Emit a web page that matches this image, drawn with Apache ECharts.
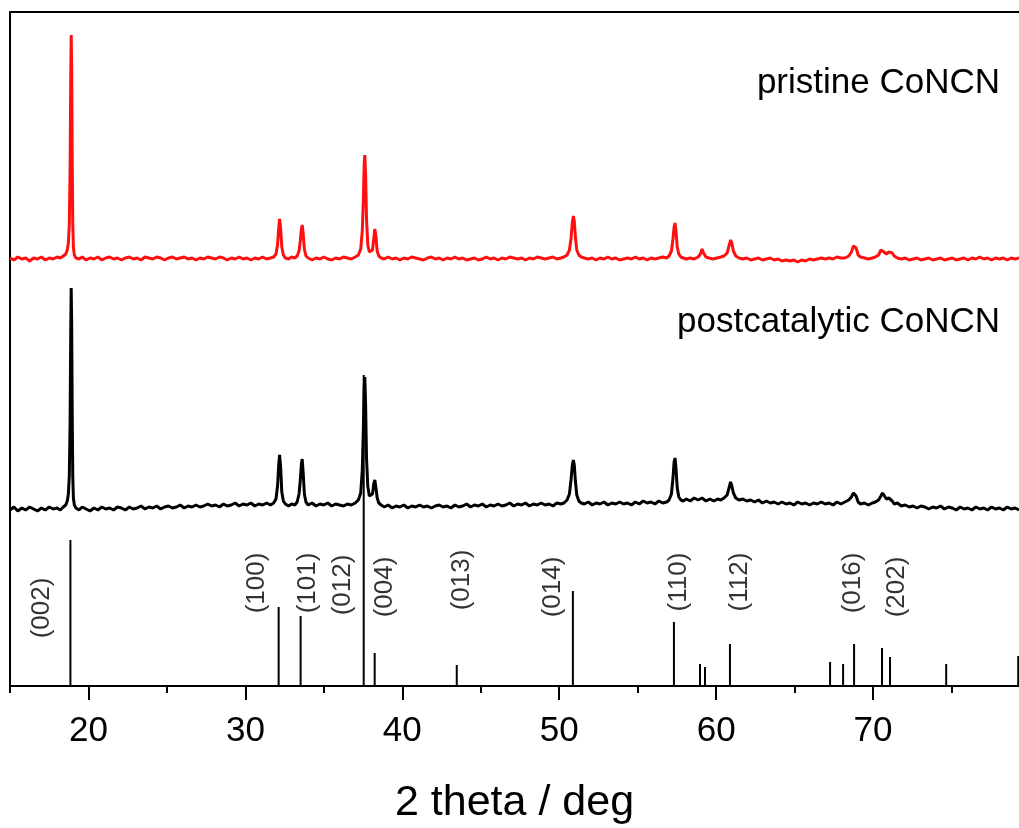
<!DOCTYPE html>
<html>
<head>
<meta charset="utf-8">
<script src="https://cdn.jsdelivr.net/npm/echarts@6/dist/echarts.min.js"></script>
<style>
html,body{margin:0;padding:0;background:#fff;}
#chart{width:1019px;height:828px;}
</style>
</head>
<body>
<div id="chart"></div>
<script>
// ---------- DATA ----------
// x axis (2 theta, deg); the original frame is cropped at the right edge
const xMin = 15, xMax = 79.3;
const majorTicks = [20, 30, 40, 50, 60, 70];
const minorTicks = [15, 25, 35, 45, 55, 65, 75];
const yMax = 674; // arbitrary intensity units

// pristine CoNCN pattern: [2theta, intensity above its own baseline]
const pristine = [
[15.0,1],[15.25,-1],[15.5,2],[15.75,0],[16.0,1],[16.25,-2],[16.5,1],[16.75,0],[17.0,2],[17.25,-1],[17.5,1],[17.75,0],[18.0,2],[18.2,1],[18.4,3],[18.55,5],[18.65,9],[18.72,16],[18.78,35],[18.83,90],[18.87,180],[18.9,224],[18.93,190],[18.97,90],[19.0,35],[19.04,12],[19.1,4],[19.2,1],[19.4,0],[19.6,2],[19.85,-1],
[20.1,1],[20.35,0],[20.6,2],[20.85,-1],[21.1,1],[21.35,2],[21.6,0],[21.85,1],[22.1,-1],[22.35,1],[22.6,2],[22.85,0],[23.1,1],[23.35,-1],[23.6,2],[23.85,1],[24.1,0],[24.35,2],[24.6,1],[24.85,-1],[25.1,1],[25.35,2],[25.6,0],[25.85,1],[26.1,2],[26.35,0],[26.6,1],[26.85,-1],[27.1,1],[27.35,0],[27.6,2],[27.85,1],[28.1,0],[28.35,2],[28.6,1],[28.85,-1],[29.1,1],[29.35,0],[29.6,2],[29.85,0],
[30.1,1],[30.35,-1],[30.6,1],[30.85,0],[31.1,2],[31.35,0],[31.6,1],[31.8,2],[31.95,5],[32.05,14],[32.12,30],[32.18,40],[32.25,30],[32.32,12],[32.42,4],[32.55,1],[32.75,0],[32.95,2],[33.15,1],[33.3,3],[33.42,8],[33.5,18],[33.57,30],[33.62,34],[33.68,26],[33.76,10],[33.86,3],[34.0,1],[34.25,-1],[34.5,1],[34.75,0],[35.0,2],[35.25,0],[35.5,-1],[35.75,1],[36.0,0],[36.25,2],[36.5,1],[36.75,0],[37.0,2],[37.2,4],[37.35,10],[37.45,28],[37.52,60],[37.57,95],[37.61,104],[37.66,85],[37.72,40],[37.8,14],[37.9,7],[38.0,6],[38.1,9],[38.18,20],[38.25,30],[38.32,22],[38.4,8],[38.5,3],[38.65,1],[38.85,0],[39.1,2],[39.35,0],[39.6,1],[39.85,-1],
[40.1,1],[40.35,0],[40.6,2],[40.85,1],[41.1,0],[41.35,-1],[41.6,1],[41.85,2],[42.1,0],[42.35,1],[42.6,-1],[42.85,1],[43.1,0],[43.35,2],[43.6,0],[43.85,1],[44.1,-1],[44.35,0],[44.6,1],[44.85,-1],[45.1,0],[45.35,2],[45.6,0],[45.85,1],[46.1,-1],[46.35,1],[46.6,0],[46.85,2],[47.1,1],[47.35,0],[47.6,1],[47.85,-1],[48.1,1],[48.35,0],[48.6,2],[48.85,1],[49.1,0],[49.35,1],[49.6,2],[49.85,0],
[50.1,1],[50.3,2],[50.5,4],[50.65,9],[50.75,20],[50.83,36],[50.9,43],[50.96,38],[51.03,22],[51.12,9],[51.25,4],[51.4,2],[51.6,1],[51.85,0],[52.1,1],[52.35,-1],[52.6,1],[52.85,0],[53.1,2],[53.35,0],[53.6,1],[53.85,-1],[54.1,0],[54.35,1],[54.6,0],[54.85,2],[55.1,0],[55.35,1],[55.6,-1],[55.85,1],[56.1,0],[56.35,1],[56.6,2],[56.85,1],[57.0,3],[57.15,8],[57.25,20],[57.32,32],[57.38,36],[57.44,28],[57.52,12],[57.62,5],[57.75,2],[57.9,1],[58.1,0],[58.35,1],[58.6,0],[58.85,2],[59.0,5],[59.1,10],[59.2,6],[59.35,2],[59.55,1],[59.8,0],
[60.05,1],[60.3,2],[60.5,3],[60.7,6],[60.82,13],[60.92,19],[61.0,16],[61.1,8],[61.25,3],[61.45,1],[61.7,0],[61.95,1],[62.2,-1],[62.45,0],[62.7,1],[62.95,-1],[63.2,0],[63.45,1],[63.7,-1],[63.95,0],[64.2,-2],[64.45,-1],[64.7,-2],[64.95,-1],[65.2,-3],[65.45,-1],[65.7,-2],[65.95,0],[66.2,-1],[66.45,0],[66.7,1],[66.95,0],[67.2,1],[67.45,0],[67.7,2],[67.95,1],[68.2,1],[68.45,3],[68.62,7],[68.75,13],[68.83,15],[68.92,11],[69.05,4],[69.2,2],[69.45,1],[69.7,0],[69.95,1],
[70.15,2],[70.35,4],[70.5,9],[70.6,11],[70.7,7],[70.85,5],[71.0,7],[71.12,9],[71.22,6],[71.35,3],[71.55,1],[71.8,0],[72.05,1],[72.3,-1],[72.55,0],[72.8,1],[73.05,-1],[73.3,0],[73.55,1],[73.8,-1],[74.05,0],[74.3,1],[74.55,-1],[74.8,0],[75.05,1],[75.3,-1],[75.55,0],[75.8,1],[76.05,-1],[76.3,1],[76.55,0],[76.8,2],[77.05,0],[77.3,1],[77.55,-1],[77.8,1],[78.05,0],[78.3,1],[78.55,-1],[78.8,1],[79.05,0],[79.3,1]
];

// postcatalytic CoNCN pattern: [2theta, intensity above its own baseline]
const postcatalytic = [
[15.0,-2],[15.25,1],[15.5,-3],[15.75,0],[16.0,-2],[16.25,1],[16.5,-1],[16.75,-3],[17.0,0],[17.25,-2],[17.5,1],[17.75,-1],[18.0,0],[18.2,-2],[18.4,1],[18.55,3],[18.65,7],[18.72,14],[18.78,32],[18.83,85],[18.87,175],[18.9,220],[18.93,185],[18.97,85],[19.0,32],[19.04,10],[19.1,3],[19.2,0],[19.4,-2],[19.6,1],[19.85,-1],
[20.1,-3],[20.35,0],[20.6,-2],[20.85,1],[21.1,-1],[21.35,0],[21.6,-2],[21.85,1],[22.1,0],[22.35,-2],[22.6,1],[22.85,-1],[23.1,0],[23.35,2],[23.6,-1],[23.85,1],[24.1,0],[24.35,2],[24.6,-1],[24.85,1],[25.1,2],[25.35,0],[25.6,1],[25.85,3],[26.1,0],[26.35,2],[26.6,1],[26.85,3],[27.1,1],[27.35,2],[27.6,4],[27.85,2],[28.1,3],[28.35,1],[28.6,4],[28.85,2],[29.1,3],[29.35,5],[29.6,2],[29.85,4],
[30.1,3],[30.35,5],[30.6,2],[30.85,4],[31.1,3],[31.35,5],[31.6,3],[31.8,5],[31.95,9],[32.05,22],[32.12,42],[32.18,53],[32.25,40],[32.32,16],[32.42,7],[32.55,4],[32.75,2],[32.95,4],[33.15,3],[33.3,6],[33.42,14],[33.5,28],[33.57,44],[33.62,49],[33.68,36],[33.76,14],[33.86,6],[34.0,3],[34.25,5],[34.5,2],[34.75,4],[35.0,3],[35.25,5],[35.5,2],[35.75,4],[36.0,3],[36.25,2],[36.5,4],[36.75,3],[37.0,5],[37.2,8],[37.35,15],[37.45,38],[37.52,80],[37.57,120],[37.61,131],[37.66,105],[37.72,50],[37.8,22],[37.9,12],[38.0,10],[38.1,14],[38.18,24],[38.25,28],[38.32,20],[38.4,10],[38.5,5],[38.65,3],[38.85,1],[39.1,3],[39.35,0],[39.6,2],[39.85,1],
[40.1,3],[40.35,0],[40.6,2],[40.85,1],[41.1,3],[41.35,1],[41.6,2],[41.85,0],[42.1,2],[42.35,3],[42.6,1],[42.85,2],[43.1,0],[43.35,3],[43.6,1],[43.85,2],[44.1,4],[44.35,1],[44.6,3],[44.85,2],[45.1,4],[45.35,1],[45.6,3],[45.85,2],[46.1,4],[46.35,2],[46.6,3],[46.85,5],[47.1,2],[47.35,4],[47.6,3],[47.85,5],[48.1,2],[48.35,4],[48.6,3],[48.85,5],[49.1,3],[49.35,4],[49.6,2],[49.85,5],
[50.1,4],[50.3,5],[50.5,8],[50.65,14],[50.75,28],[50.83,42],[50.9,48],[50.96,43],[51.03,27],[51.12,13],[51.25,7],[51.4,5],[51.6,4],[51.85,6],[52.1,3],[52.35,5],[52.6,4],[52.85,6],[53.1,3],[53.35,5],[53.6,4],[53.85,6],[54.1,4],[54.35,5],[54.6,3],[54.85,6],[55.1,4],[55.35,7],[55.6,5],[55.85,6],[56.1,4],[56.35,7],[56.6,5],[56.85,6],[57.0,8],[57.15,14],[57.25,30],[57.32,46],[57.38,50],[57.44,40],[57.52,20],[57.62,11],[57.75,8],[57.9,7],[58.1,9],[58.35,7],[58.6,10],[58.85,8],[59.1,10],[59.35,7],[59.6,9],[59.85,7],
[60.1,9],[60.3,8],[60.5,10],[60.7,13],[60.82,20],[60.92,26],[61.0,22],[61.1,15],[61.25,10],[61.45,8],[61.7,9],[61.95,7],[62.2,8],[62.45,6],[62.7,8],[62.95,5],[63.2,7],[63.45,5],[63.7,6],[63.95,4],[64.2,6],[64.45,4],[64.7,5],[64.95,3],[65.2,6],[65.45,4],[65.7,5],[65.95,3],[66.2,5],[66.45,4],[66.7,6],[66.95,4],[67.2,5],[67.45,3],[67.7,6],[67.95,4],[68.2,6],[68.45,8],[68.62,11],[68.75,15],[68.83,16],[68.92,12],[69.05,6],[69.2,4],[69.45,5],[69.7,3],[69.95,5],
[70.15,6],[70.35,8],[70.5,12],[70.6,15],[70.7,13],[70.85,9],[71.0,10],[71.12,8],[71.22,7],[71.35,4],[71.55,5],[71.8,2],[72.05,3],[72.3,1],[72.55,2],[72.8,0],[73.05,2],[73.3,1],[73.55,-1],[73.8,1],[74.05,0],[74.3,2],[74.55,-1],[74.8,1],[75.05,0],[75.3,-2],[75.55,1],[75.8,-1],[76.05,0],[76.3,-2],[76.55,1],[76.8,-1],[77.05,0],[77.3,-2],[77.55,1],[77.8,-1],[78.05,0],[78.3,-2],[78.55,1],[78.8,-1],[79.05,0],[79.3,-2]
];

// reference pattern (stick positions and heights)
const refPositions = [18.85, 32.12, 33.52, 37.54, 38.24, 43.47, 50.87, 57.31, 58.97, 59.29, 60.88, 67.26, 68.09, 68.79, 70.57, 71.08, 74.66, 79.25];
const refHeights   = [146, 79, 70, 311, 33, 21, 95, 64, 22, 19, 42, 24, 22, 42, 38, 29, 22, 30];

// Miller index labels: text, 2theta of label centre, height of label centre
const hklText = ['(002)', '(100)', '(101)', '(012)', '(004)', '(013)', '(014)', '(110)', '(112)', '(016)', '(202)'];
const hklX    = [17.0, 30.71, 33.97, 36.2, 38.88, 43.79, 49.59, 57.63, 61.52, 68.72, 71.53];
const hklY    = [78, 103, 103, 101, 99, 106, 99, 104, 104, 103, 99];

const seriesNames = ['pristine CoNCN', 'postcatalytic CoNCN'];
const xAxisTitle = '2 theta / deg';

// ---------- LAYOUT / STYLE ----------
const pristineOffset = 427;
const postOffset = 178;
const FONT = '"Liberation Sans", Arial, sans-serif';

const chart = echarts.init(document.getElementById('chart'), null, {renderer: 'canvas'});

const option = {
  animation: false,
  backgroundColor: '#fff',
  grid: {left: 10, top: 12, right: 0, bottom: 142, show: false, containLabel: false, outerBoundsMode: 'none'},
  xAxis: [
    {
      type: 'value', min: xMin, max: xMax, position: 'bottom',
      name: xAxisTitle, nameLocation: 'middle', nameGap: 96, nameMoveOverlap: false,
      nameTextStyle: {fontSize: 43, color: '#000', fontFamily: FONT},
      axisLine: {show: true, onZero: false, lineStyle: {color: '#000', width: 2}},
      axisTick: {show: true, customValues: majorTicks, length: 14, inside: false, lineStyle: {color: '#000', width: 2}},
      axisLabel: {show: true, customValues: majorTicks, fontSize: 35, color: '#000', fontFamily: FONT, margin: 28},
      splitLine: {show: false}
    },
    {
      type: 'value', min: xMin, max: xMax, position: 'bottom',
      axisLine: {show: false},
      axisTick: {show: true, customValues: minorTicks, length: 7, lineStyle: {color: '#000', width: 2}},
      axisLabel: {show: false},
      splitLine: {show: false}
    },
    {
      type: 'value', min: xMin, max: xMax, position: 'top',
      axisLine: {show: true, onZero: false, lineStyle: {color: '#000', width: 2}},
      axisTick: {show: false}, axisLabel: {show: false}, splitLine: {show: false}
    }
  ],
  yAxis: {
    type: 'value', min: 0, max: yMax,
    axisLine: {show: true, onZero: false, lineStyle: {color: '#000', width: 2}},
    axisTick: {show: false}, axisLabel: {show: false}, splitLine: {show: false}
  },
  graphic: [
    {type: 'text', style: {x: 1000, y: 83, text: seriesNames[0], align: 'right', verticalAlign: 'middle', fill: '#000', font: '35px ' + FONT}},
    {type: 'text', style: {x: 1000, y: 322, text: seriesNames[1], align: 'right', verticalAlign: 'middle', fill: '#000', font: '35px ' + FONT}}
  ],
  series: [
    {
      name: 'reference', type: 'bar', xAxisIndex: 0,
      data: refPositions.map((p, i) => [p, refHeights[i]]),
      barWidth: 2, itemStyle: {color: '#000'}, silent: true, z: 1
    },
    {
      name: seriesNames[1], type: 'line', xAxisIndex: 0,
      data: postcatalytic.map(d => [d[0], d[1] + postOffset]),
      showSymbol: false, symbol: 'none',
      lineStyle: {color: '#000', width: 3}, z: 3
    },
    {
      name: seriesNames[0], type: 'line', xAxisIndex: 0,
      data: pristine.map(d => [d[0], d[1] + pristineOffset]),
      showSymbol: false, symbol: 'none',
      lineStyle: {color: '#ff1010', width: 3}, z: 3
    },
    {
      name: 'hkl', type: 'scatter', xAxisIndex: 0,
      data: hklX.map((x, i) => ({value: [x, hklY[i]], name: hklText[i]})),
      symbolSize: 0.01, silent: true,
      label: {
        show: true, position: 'inside', rotate: 90,
        formatter: p => p.name,
        fontSize: 26, color: '#000', fontFamily: FONT
      }
    }
  ]
};
chart.setOption(option);
</script>
</body>
</html>
